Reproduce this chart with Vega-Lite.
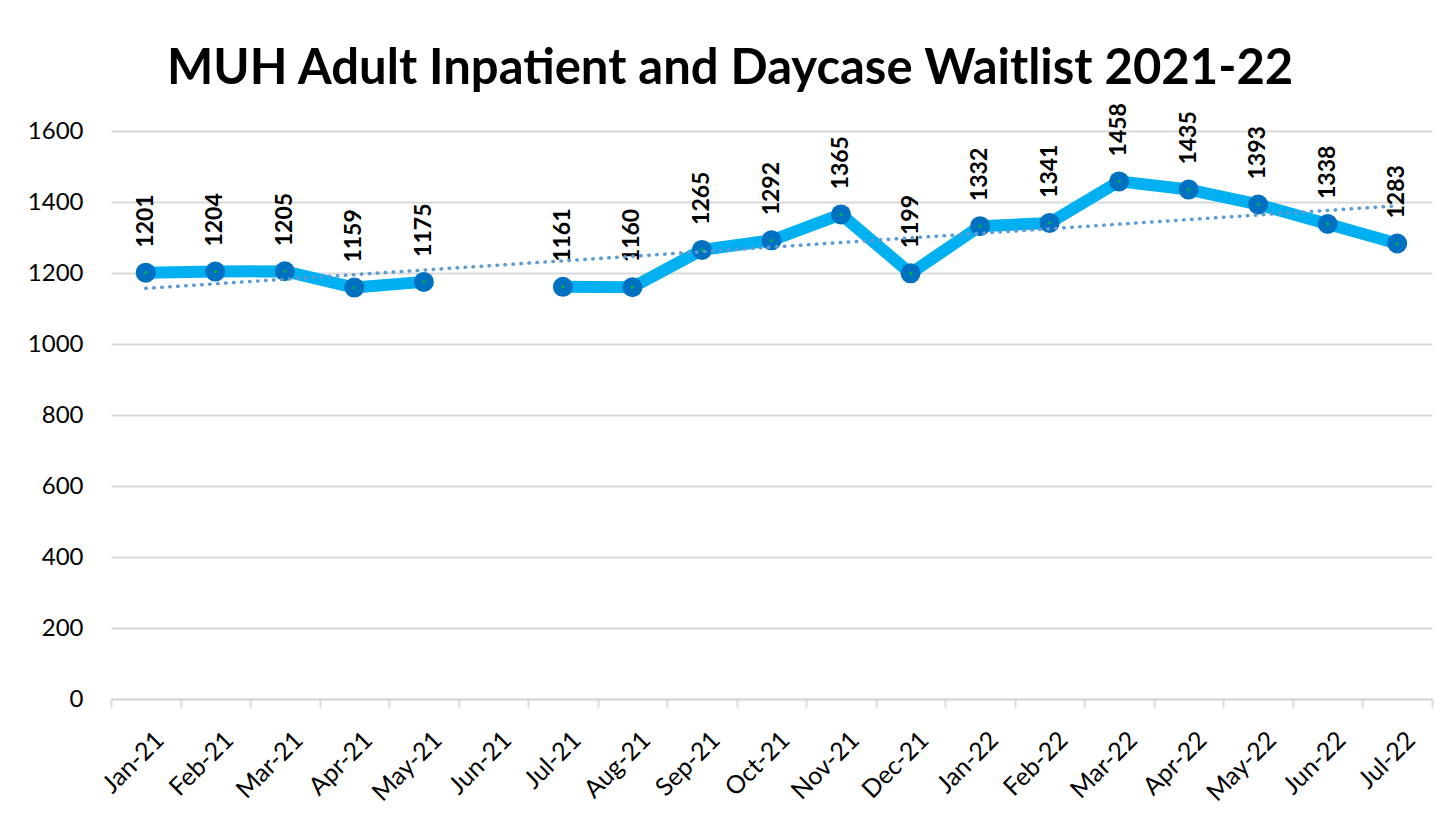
{
  "$schema": "https://vega.github.io/schema/vega-lite/v6.json",
  "width": 1321,
  "height": 568,
  "padding": {"left": 27, "top": 45, "right": 14, "bottom": 5},
  "autosize": {"type": "pad"},
  "background": "white",
  "config": {"view": {"stroke": null}, "font": "Lato"},
  "title": {
    "text": "MUH Adult Inpatient and Daycase Waitlist 2021-22",
    "fontSize": 49,
    "fontWeight": "bold",
    "font": "Lato",
    "color": "black",
    "anchor": "middle",
    "frame": "bounds",
    "offset": 9
  },
  "datasets": {
    "wl": [
      {"month": "Jan-21", "idx": 0, "value": 1201},
      {"month": "Feb-21", "idx": 1, "value": 1204},
      {"month": "Mar-21", "idx": 2, "value": 1205},
      {"month": "Apr-21", "idx": 3, "value": 1159},
      {"month": "May-21", "idx": 4, "value": 1175},
      {"month": "Jun-21", "idx": 5, "value": null},
      {"month": "Jul-21", "idx": 6, "value": 1161},
      {"month": "Aug-21", "idx": 7, "value": 1160},
      {"month": "Sep-21", "idx": 8, "value": 1265},
      {"month": "Oct-21", "idx": 9, "value": 1292},
      {"month": "Nov-21", "idx": 10, "value": 1365},
      {"month": "Dec-21", "idx": 11, "value": 1199},
      {"month": "Jan-22", "idx": 12, "value": 1332},
      {"month": "Feb-22", "idx": 13, "value": 1341},
      {"month": "Mar-22", "idx": 14, "value": 1458},
      {"month": "Apr-22", "idx": 15, "value": 1435},
      {"month": "May-22", "idx": 16, "value": 1393},
      {"month": "Jun-22", "idx": 17, "value": 1338},
      {"month": "Jul-22", "idx": 18, "value": 1283}
    ]
  },
  "data": {"name": "wl"},
  "encoding": {
    "x": {
      "field": "month",
      "type": "ordinal",
      "sort": null,
      "scale": {
        "type": "band",
        "paddingInner": 0,
        "paddingOuter": 0,
        "domain": ["Jan-21","Feb-21","Mar-21","Apr-21","May-21","Jun-21","Jul-21","Aug-21","Sep-21","Oct-21","Nov-21","Dec-21","Jan-22","Feb-22","Mar-22","Apr-22","May-22","Jun-22","Jul-22"]
      },
      "axis": {
        "title": null,
        "labelAngle": -45,
        "labelAlign": "right",
        "labelBaseline": "top",
        "labelFontSize": 25,
        "labelColor": "black",
        "labelPadding": 20,
        "labelOffset": 5,
        "tickBand": "extent",
        "ticks": true,
        "tickSize": 8,
        "tickColor": "#D9D9D9",
        "tickWidth": 2,
        "domainColor": "#D9D9D9",
        "domainWidth": 2,
        "grid": false
      }
    },
    "y": {
      "field": "value",
      "type": "quantitative",
      "scale": {"domain": [0, 1600], "nice": false, "zero": true},
      "axis": {
        "title": null,
        "values": [0, 200, 400, 600, 800, 1000, 1200, 1400, 1600],
        "format": "d",
        "grid": true,
        "gridColor": "#D9D9D9",
        "gridWidth": 2,
        "domain": false,
        "ticks": false,
        "labelFontSize": 24,
        "labelColor": "black",
        "labelPadding": 28
      }
    }
  },
  "layer": [
    {
      "mark": {"type": "line", "color": "#00B0F0", "strokeWidth": 12, "strokeJoin": "round", "strokeCap": "round"}
    },
    {
      "transform": [{"filter": "isValid(datum.value)"}],
      "mark": {"type": "point", "filled": true, "shape": "circle", "size": 400, "color": "#0070C0", "opacity": 1}
    },
    {
      "transform": [{"filter": "isValid(datum.value)"}],
      "mark": {"type": "point", "filled": true, "shape": "circle", "size": 10, "color": "#00B050", "opacity": 1}
    },
    {
      "transform": [{"filter": "isValid(datum.value)"}],
      "mark": {"type": "text", "angle": 270, "align": "left", "baseline": "middle", "dx": 25, "fontSize": 23, "fontWeight": "bold", "color": "black"},
      "encoding": {"text": {"field": "value", "type": "quantitative", "format": "d"}}
    },
    {
      "transform": [
        {"filter": "isValid(datum.value)"},
        {"regression": "value", "on": "idx"},
        {"lookup": "idx", "from": {"data": {"name": "wl"}, "key": "idx", "fields": ["month"]}}
      ],
      "mark": {"type": "line", "color": "#5B9BD5", "strokeWidth": 3.5, "strokeDash": [0.5, 7.5], "strokeCap": "round"}
    }
  ]
}
